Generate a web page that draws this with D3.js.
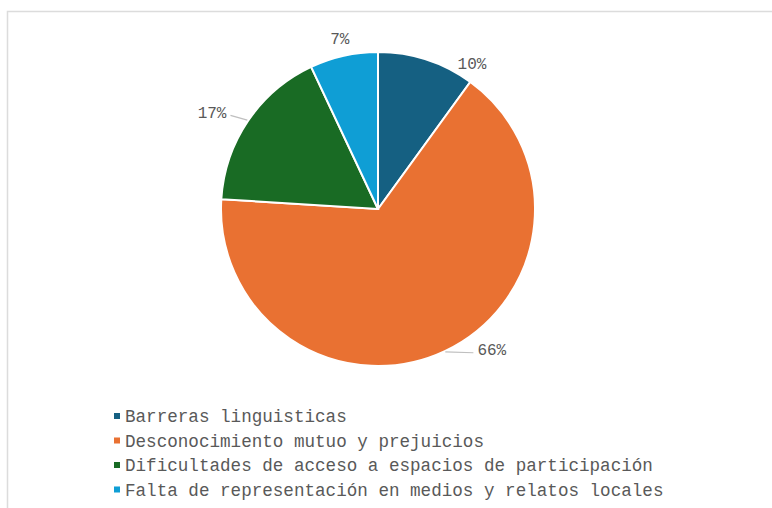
<!DOCTYPE html>
<html>
<head>
<meta charset="utf-8">
<script src="https://cdn.jsdelivr.net/npm/d3@7"></script>
<style>
  body { margin: 0; background: #fff; }
  svg { display: block; }
</style>
</head>
<body>
<svg id="chart"></svg>
<script>
var categories = [
    "Barreras linguisticas",
    "Desconocimiento mutuo y prejuicios",
    "Dificultades de acceso a espacios de participación",
    "Falta de representación en medios y relatos locales"
];
var values = [10, 66, 17, 7];
var colors = ["#156082", "#e97132", "#196b24", "#0f9ed5"];

var width = 772, height = 508;
var cx = 378, cy = 209, radius = 157;
var font = "'Courier New', 'Liberation Mono', monospace";

// label placement per slice: [angle offset (rad), distance], leader line or not
var labelLayout = [
    { da: 0.26, dist: 173, leader: false },
    { da: -0.24, dist: 181, leader: true },
    { da: -0.07, dist: 192, leader: true },
    { da: 0.0, dist: 175, leader: false }
];

var svg = d3.select("#chart")
    .attr("width", width)
    .attr("height", height);

// chart frame
svg.append("rect")
    .attr("x", 7.5)
    .attr("y", 11.5)
    .attr("width", width + 10)
    .attr("height", height + 10)
    .attr("fill", "none")
    .attr("stroke", "#dcdcdc")
    .attr("stroke-width", 1.5);

var pie = d3.pie().sort(null).value(function(d) { return d; });
var arcs = pie(values);

var arc = d3.arc().innerRadius(0).outerRadius(radius);

var g = svg.append("g").attr("transform", "translate(" + cx + "," + cy + ")");

g.selectAll("path.slice")
    .data(arcs)
    .enter().append("path")
    .attr("class", "slice")
    .attr("d", arc)
    .attr("fill", function(d, i) { return colors[i]; })
    .attr("stroke", "#fff")
    .attr("stroke-width", 2);

function polar(a, r) {
    return [Math.sin(a) * r, -Math.cos(a) * r];
}

arcs.forEach(function(d, i) {
    var lay = labelLayout[i];
    var mid = (d.startAngle + d.endAngle) / 2;
    var p = polar(mid + lay.da, lay.dist);
    var txt = g.append("text")
        .attr("x", p[0])
        .attr("y", p[1])
        .attr("dy", "0.35em")
        .attr("text-anchor", "middle")
        .attr("font-family", font)
        .attr("font-size", 16)
        .attr("fill", "#595959")
        .text(values[i] + "%");
    if (lay.leader) {
        var w = txt.node().getComputedTextLength();
        var s = polar(mid, radius + 1);
        var side = p[0] < 0 ? 1 : -1;
        var ex = p[0] + side * (w / 2 + 4);
        g.append("path")
            .attr("d", "M" + s[0] + "," + s[1] + "L" + ex + "," + (p[1] + 3))
            .attr("fill", "none")
            .attr("stroke", "#bfbfbf")
            .attr("stroke-width", 1.2);
    }
});

// legend
var legend = svg.append("g").attr("transform", "translate(114,416)");
var rows = legend.selectAll("g")
    .data(categories)
    .enter().append("g")
    .attr("transform", function(d, i) { return "translate(0," + (i * 24.5) + ")"; });

rows.append("rect")
    .attr("x", 0)
    .attr("y", -3)
    .attr("width", 6)
    .attr("height", 6)
    .attr("fill", function(d, i) { return colors[i]; });

rows.append("text")
    .attr("x", 11)
    .attr("y", 0)
    .attr("dy", "0.35em")
    .attr("font-family", font)
    .attr("font-size", 17.6)
    .attr("fill", "#595959")
    .text(function(d) { return d; });
</script>
</body>
</html>
